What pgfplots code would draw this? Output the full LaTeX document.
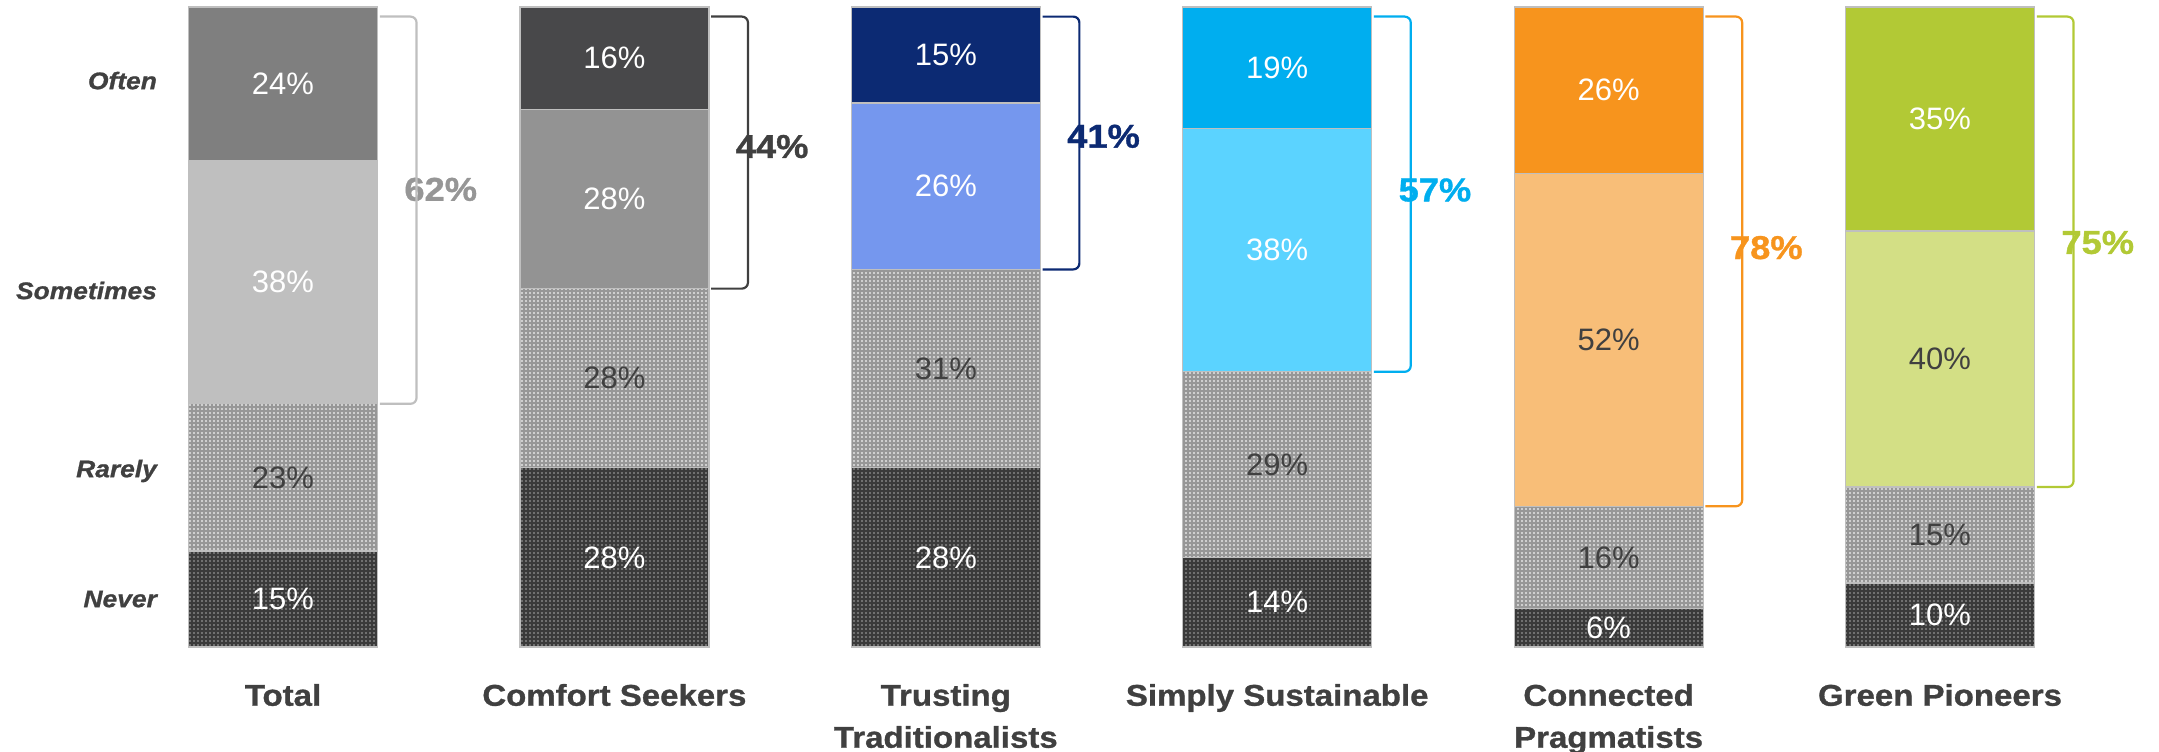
\documentclass[border=0pt]{standalone}
\usepackage{fontspec}
\setmainfont{Liberation Sans}
\usepackage{pgfplots}
\pgfplotsset{compat=1.18}
\usetikzlibrary{patterns}
\newfontfamily\widefont[FakeStretch=1.1,FakeBold=1]{Liberation Sans}
\newcommand\xlabfont{\widefont\bfseries\fontsize{15}{21}\selectfont}
\newcommand\ylabfont{\widefont\bfseries\itshape\fontsize{12}{14}\selectfont}
\newcommand\valfont{\fontsize{15.5}{18}\selectfont}
\newcommand\brfont{\widefont\bfseries\fontsize{16.5}{20}\selectfont}

\definecolor{txt}{HTML}{404040}
\definecolor{bordc}{HTML}{BFBFBF}
\definecolor{neverc}{HTML}{3A3A3A}
\definecolor{neverdot}{HTML}{707070}
\definecolor{rarelyc}{HTML}{979797}
\definecolor{rarelydot}{HTML}{CFCFCF}
\definecolor{totO}{HTML}{7F7F7F}
\definecolor{totS}{HTML}{BFBFBF}
\definecolor{totL}{HTML}{969696}
\definecolor{comO}{HTML}{48484A}
\definecolor{comS}{HTML}{939393}
\definecolor{truO}{HTML}{0C2A73}
\definecolor{truS}{HTML}{7597EE}
\definecolor{simO}{HTML}{00AEEF}
\definecolor{simS}{HTML}{5BD3FF}
\definecolor{conO}{HTML}{F7941D}
\definecolor{conS}{HTML}{F8BE78}
\definecolor{greO}{HTML}{B2C935}
\definecolor{greS}{HTML}{D3DF85}

\pgfdeclarepatternformonly{griddots}{\pgfqpoint{-0.1pt}{-0.1pt}}{\pgfqpoint{2.1pt}{2.1pt}}{\pgfqpoint{2pt}{2pt}}%
{\pgfpathrectangle{\pgfqpoint{0.5pt}{0.5pt}}{\pgfqpoint{1pt}{1pt}}\pgfusepath{fill}}

\pgfplotsset{
  catax/.style={
    scale only axis, width=165.7pt, height=320pt,
    xmin=-0.5, xmax=0.5, ymin=0, ymax=100,
    anchor=south west,
    axis line style={draw=none}, major tick length=0pt,
    xtick={0}, ytick=\empty,
    clip=false,
    ybar stacked, bar width=94.5pt,
    xticklabel style={font=\xlabfont, text=txt, align=center, anchor=north, inner sep=0pt, yshift=-18.3pt},
    yticklabel style={font=\ylabfont, text=txt, anchor=east, inner sep=0pt, xshift=20pt},
    visualization depends on={rawy \as \rawy},
    nodes near coords={\pgfmathprintnumber[assume math mode=true,fixed,precision=0]{\rawy}\%},
    every node near coord/.append style={font=\valfont, anchor=center},
  },
  never/.style={fill=neverc, draw=bordc, line width=0.6pt,
    postaction={pattern=griddots, pattern color=neverdot},
    every node near coord/.append style={text=white}},
  rarely/.style={fill=rarelyc, draw=bordc, line width=0.6pt,
    postaction={pattern=griddots, pattern color=rarelydot},
    every node near coord/.append style={text=txt}},
  seg/.style 2 args={fill=#1, draw=bordc, line width=0.6pt,
    every node near coord/.append style={text=#2}},
}

% #1 bottom, #2 top, #3 colour, #4 label, #5 label height
\newcommand\bracket[5]{%
  \draw[#3, line width=1.1pt, rounded corners=3pt]
    (axis cs:0.292,#1) -- (axis cs:0.403,#1) -- (axis cs:0.403,#2) -- (axis cs:0.292,#2);
  \node[fill=white, inner xsep=1pt, inner ysep=8pt, text=#3, font=\brfont]
    at (axis cs:0.476,#5) {#4};
}

\begin{document}
\begin{tikzpicture}
% Total
\begin{axis}[catax, at={(58.65pt,0pt)}, xticklabels={Total},
  ytick={7.5,27.5,55.7,88.5}, yticklabels={Never,Rarely,Sometimes,Often}]
\addplot[never] coordinates {(0,15)};
\addplot[rarely] coordinates {(0,23)};
\addplot[seg={totS}{white}] coordinates {(0,38)};
\addplot[seg={totO}{white}] coordinates {(0,24)};
\bracket{38}{98.5}{bordc}{\textcolor{totL}{62\%}}{71.5}
\end{axis}
% Comfort Seekers
\begin{axis}[catax, at={(224.35pt,0pt)}, xticklabels={Comfort Seekers}]
\addplot[never] coordinates {(0,28)};
\addplot[rarely] coordinates {(0,28)};
\addplot[seg={comS}{white}] coordinates {(0,28)};
\addplot[seg={comO}{white}] coordinates {(0,16)};
\bracket{56}{98.5}{txt}{44\%}{78.2}
\end{axis}
% Trusting Traditionalists
\begin{axis}[catax, at={(390.05pt,0pt)}, xticklabels={{Trusting\\Traditionalists}}]
\addplot[never] coordinates {(0,28)};
\addplot[rarely] coordinates {(0,31)};
\addplot[seg={truS}{white}] coordinates {(0,26)};
\addplot[seg={truO}{white}] coordinates {(0,15)};
\bracket{59}{98.5}{truO}{41\%}{79.8}
\end{axis}
% Simply Sustainable
\begin{axis}[catax, at={(555.75pt,0pt)}, xticklabels={Simply Sustainable}]
\addplot[never] coordinates {(0,14)};
\addplot[rarely] coordinates {(0,29)};
\addplot[seg={simS}{white}] coordinates {(0,38)};
\addplot[seg={simO}{white}] coordinates {(0,19)};
\bracket{43}{98.5}{simO}{57\%}{71.4}
\end{axis}
% Connected Pragmatists
\begin{axis}[catax, at={(721.45pt,0pt)}, xticklabels={{Connected\\Pragmatists}}]
\addplot[never] coordinates {(0,6)};
\addplot[rarely] coordinates {(0,16)};
\addplot[seg={conS}{txt}] coordinates {(0,52)};
\addplot[seg={conO}{white}] coordinates {(0,26)};
\bracket{22}{98.5}{conO}{78\%}{62.4}
\end{axis}
% Green Pioneers
\begin{axis}[catax, at={(887.15pt,0pt)}, xticklabels={Green Pioneers}]
\addplot[never] coordinates {(0,10)};
\addplot[rarely] coordinates {(0,15)};
\addplot[seg={greS}{txt}] coordinates {(0,40)};
\addplot[seg={greO}{white}] coordinates {(0,35)};
\bracket{25}{98.5}{greO}{75\%}{63.2}
\end{axis}
\pgfresetboundingbox
\useasboundingbox (0pt,-52pt) rectangle (1079.5pt,323.5pt);
\end{tikzpicture}
\end{document}
